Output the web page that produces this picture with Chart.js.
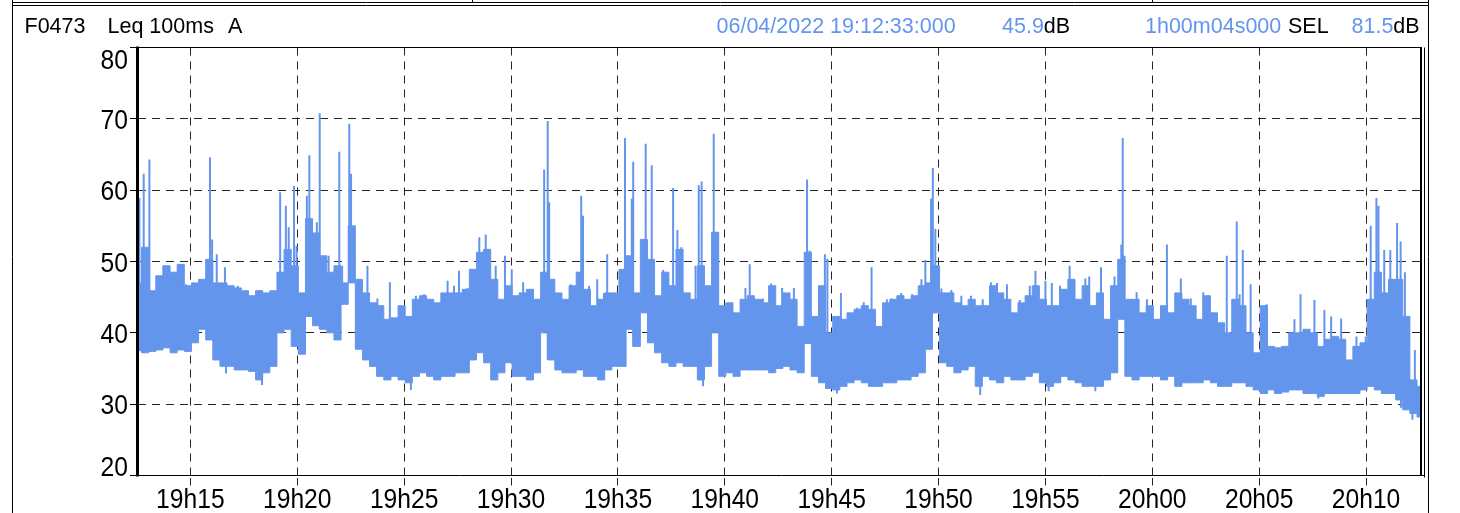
<!DOCTYPE html>
<html>
<head>
<meta charset="utf-8">
<script src="https://cdn.jsdelivr.net/npm/chart.js@4.4.0/dist/chart.umd.min.js"></script>
<style>
  html, body { margin: 0; padding: 0; background: #fff; }
  #wrap { position: relative; width: 1460px; height: 513px; overflow: hidden;
          font-family: "Liberation Sans", Arial, sans-serif; }
  #c { position: absolute; left: 0; top: 0; }
  .hd { position: absolute; top: 13.5px; font-size: 21.5px; line-height: 24px;
        white-space: nowrap; color: #000; }
  .b { color: #6495ed; }
</style>
</head>
<body>
<div id="wrap">
  <canvas id="c" width="1460" height="513"></canvas>
  <div class="hd" style="left:24.5px">F0473</div>
  <div class="hd" style="left:107.5px">Leq 100ms</div>
  <div class="hd" style="left:228px">A</div>
  <div class="hd b" style="left:716.5px">06/04/2022 19:12:33:000</div>
  <div class="hd" style="left:1002px"><span class="b">45.9</span>dB</div>
  <div class="hd b" style="left:1145px">1h00m04s000</div>
  <div class="hd" style="left:1288px">SEL</div>
  <div class="hd" style="left:1351.5px"><span class="b">81.5</span>dB</div>
</div>
<script>
// seconds since 19:12:33, one band sample every 20 s, last one at the end (3604 s)
const totalSeconds = 3604;
const sampleStep = 20;

// upper edge of the dense band (dB)
const levelHigh = [
  47, 52, 45.9, 48, 49.4, 48.5, 49.6, 46.6, 47, 47.5,
  50.3, 47, 47, 46.6, 46.3, 45.9, 45.2, 45.9, 45.6, 45.9,
  48.5, 51.7, 49.4, 45.6, 56, 54, 50.8, 48.5, 49.4, 47,
  55, 47.5, 45.6, 44.2, 43.8, 41.9, 42.1, 43.8, 42.3, 44.7,
  45.2, 44.7, 44.2, 45.6, 45.6, 45.6, 46.1, 48.9, 51.3, 51.7,
  47.5, 44.7, 46.6, 45.2, 45.6, 46.1, 44.7, 48.5, 47.5, 45.6,
  44.7, 46.6, 48.5, 46.1, 43.8, 44.7, 45.6, 45.6, 48.9, 50.8,
  45.6, 53.1, 50.3, 45.2, 48.5, 46.6, 51.7, 45.6, 44.7, 49.4,
  46.6, 54.1, 43.8, 44.2, 42.8, 44.7, 45.2, 44.7, 44.2, 46.6,
  43.8, 45.6, 44.7, 40.9, 51.3, 42.3, 46.6, 40, 42.3, 41.9,
  42.8, 43.3, 43.8, 43.3, 40.9, 44.2, 44.7, 45.2, 44.7, 45.2,
  46.6, 47, 49.4, 45.6, 45.6, 44.2, 43.8, 44.7, 43.8, 43.8,
  46.6, 45.6, 44.7, 42.8, 44.2, 45.2, 46.6, 44.7, 43.8, 43.8,
  46.1, 47.5, 44.7, 46.6, 43.8, 45.6, 41.9, 46.6, 50.3, 44.7,
  44.7, 42.8, 43.8, 41.9, 43.8, 42.8, 45.6, 44.7, 43.8, 41.9,
  45.2, 42.8, 41.4, 40, 44.7, 43.8, 40, 37.2, 43.8, 38.1,
  37.9, 38.1, 40, 40, 40.5, 40, 38.1, 39.1, 39.5, 39.1,
  36.2, 38.1, 38.6, 44.7, 48.5, 45.6, 47.5, 47.5, 42.3, 33.4,
  32.5, 32
];

// lower edge of the dense band (dB)
const levelLow = [
  37.5, 37.2, 37.4, 37.6, 37.9, 37.2, 37.6, 37.4, 38.6, 40.5,
  39, 36.2, 35.3, 35.3, 34.8, 34.8, 34.6, 33.4, 34.4, 35.3,
  40, 40.5, 38.1, 37, 42.3, 41, 40.5, 40, 39, 44,
  47, 37.7, 36.2, 35.3, 33.9, 33.4, 33.9, 33.4, 33, 33.9,
  34.4, 33.9, 33.4, 33.9, 33.9, 34.4, 34.4, 36.2, 37.2, 35.8,
  33.4, 34.4, 35.8, 33.9, 33.9, 33.4, 34.4, 40, 36.2, 34.8,
  34.4, 34.4, 34.8, 33.9, 33.9, 33.4, 34.8, 35.3, 35.3, 40.5,
  38.1, 42.8, 38.6, 37.2, 35.8, 35.3, 35.8, 35.3, 35.3, 33.4,
  35.3, 40, 33.9, 34.4, 33.9, 34.8, 34.8, 34.8, 34.8, 34.4,
  35, 35.3, 34.8, 34.4, 38.5, 33.9, 33, 32.2, 32, 32.5,
  33, 33.4, 33, 32.5, 32.5, 33, 33, 33.4, 33.4, 33.9,
  34.4, 37.7, 42.8, 35.8, 35.3, 34.4, 34.8, 35.3, 32.5, 33.9,
  33.4, 33, 33.9, 33.4, 33.4, 33.9, 34.4, 33, 32.5, 33,
  33.9, 33.4, 33, 32.5, 32.5, 32.5, 33.4, 34.4, 41.9, 33.9,
  33.4, 33.9, 33.9, 33.9, 33.4, 33.9, 32.5, 33, 33, 33,
  33.4, 33, 32.5, 32.5, 33, 33, 32.5, 32, 31.5, 32,
  31.5, 31.7, 32, 32, 31.5, 31.5, 31.1, 31.5, 31.5, 31.5,
  31.5, 31.5, 32, 32.5, 32, 31.5, 31.5, 30.6, 29.2, 28.7,
  28.2, 28
];

// isolated short peaks above the band
const peakTimes = [
  4, 16, 32, 72, 84, 102, 124, 135, 202, 208,
  221, 244, 280, 317, 343, 399, 415, 423, 438, 445,
  474, 481, 502, 510, 518, 535, 565, 573, 593, 598,
  644, 672, 707, 780, 803, 869, 887, 901, 925, 958,
  976, 1004, 1030, 1049, 1081, 1140, 1150, 1154, 1182, 1215,
  1244, 1249, 1266, 1289, 1308, 1317, 1367, 1386, 1390, 1425,
  1442, 1474, 1488, 1502, 1514, 1525, 1565, 1574, 1582, 1616,
  1622, 1661, 1705, 1717, 1754, 1777, 1808, 1841, 1878, 1885,
  1928, 1935, 1956, 1973, 2019, 2037, 2059, 2102, 2115, 2142,
  2173, 2199, 2210, 2226, 2231, 2238, 2255, 2283, 2311, 2338,
  2371, 2394, 2411, 2439, 2475, 2503, 2519, 2547, 2565, 2588,
  2615, 2626, 2659, 2670, 2703, 2741, 2760, 2764, 2769, 2803,
  2832, 2888, 2927, 2955, 2990, 3016, 3056, 3075, 3084, 3092,
  3101, 3123, 3154, 3168, 3246, 3263, 3285, 3302, 3330, 3349,
  3377, 3420, 3446, 3460, 3476, 3482, 3498, 3515, 3534, 3544,
  3556, 3584
];
const peakLevels = [
  58.9, 62.3, 64.3, 49.4, 48.5, 48.5, 49.6, 46.8, 64.6, 53.1,
  51, 49.2, 46.6, 44.8, 46, 59.7, 57.8, 54.8, 60.6, 52.2,
  59.2, 64.9, 55.5, 70.8, 50.8, 50.8, 65.4, 49.4, 69.3, 62.3,
  49.4, 44.8, 47.1, 45.2, 45.4, 47.3, 46.6, 48.7, 46.3, 53.4,
  53.8, 49.4, 50.8, 48.9, 47.1, 62.9, 69.7, 58.3, 45.6, 46.8,
  59.2, 56.4, 46.6, 47.5, 45.6, 51, 67.3, 58.8, 64, 66.5,
  63.5, 48.8, 47.7, 60.3, 54.4, 52, 49.4, 60.7, 61.2, 67.9,
  54.1, 44.2, 46.3, 49.6, 44.8, 46.9, 46.3, 46.3, 61.5, 51.5,
  51, 50.4, 42.3, 45.6, 43.5, 44.3, 49.2, 44.7, 44.8, 45.6,
  45.4, 47.5, 50.2, 58.8, 63.1, 54.6, 46.2, 46, 45.2, 45.2,
  44.7, 47.1, 47, 46.8, 44.6, 46.6, 48.7, 47.3, 47, 46.6,
  49.4, 47.5, 47.6, 47.9, 49.2, 47.9, 52.4, 67.3, 50.8, 45.7,
  44.7, 52.4, 47.6, 44.8, 45.7, 42.8, 50.8, 41.2, 55.6, 45.4,
  51.6, 46.8, 40.5, 44, 41.9, 45.4, 40.5, 44.6, 43.2, 42.3,
  42, 39.5, 39.5, 55, 58.9, 57.8, 51.6, 51.6, 55.4, 52.8,
  48.5, 37.6
];

// short dips below the band
const dipTimes = [247, 348, 766, 1586, 1962, 2364, 2556, 2687, 3313, 3545, 3577];
const dipLevels = [34.3, 32.7, 32, 32.5, 31.5, 31.3, 31.8, 31.8, 30.8, 29.5, 27.8];

// time axis ticks (seconds since 19:12:33) and their labels
const tickSeconds = [147, 447, 747, 1047, 1347, 1647, 1947, 2247, 2547, 2847, 3147, 3447];
const tickLabels = ['19h15', '19h20', '19h25', '19h30', '19h35', '19h40',
                    '19h45', '19h50', '19h55', '20h00', '20h05', '20h10'];
const yTicks = [20, 30, 40, 50, 60, 70, 80];

const blue = '#6495ed';
const gridColor = 'rgba(0,0,0,0.85)';
const labelFont = '28px "Liberation Sans", Arial, sans-serif';

const sampleTime = i => Math.min(i * sampleStep, totalSeconds);
const highPts = levelHigh.map((v, i) => ({ x: sampleTime(i), y: v }));
const lowPts = levelLow.map((v, i) => ({ x: sampleTime(i), y: v }));
const spikePts = [];
peakTimes.forEach((t, i) => {
  const k = Math.round(t / sampleStep);
  spikePts.push({ x: t, y: levelLow[k] }, { x: t, y: peakLevels[i] }, { x: t, y: null });
});
dipTimes.forEach((t, i) => {
  const k = Math.round(t / sampleStep);
  spikePts.push({ x: t, y: levelHigh[k] }, { x: t, y: dipLevels[i] }, { x: t, y: null });
});

const framePlugin = {
  id: 'frame',
  beforeDraw(chart) {
    const ctx = chart.ctx;
    ctx.save();
    ctx.strokeStyle = '#000';
    ctx.lineWidth = 1;
    ctx.beginPath();
    ctx.moveTo(12, 2.5); ctx.lineTo(1429, 2.5);
    ctx.moveTo(472.5, 0); ctx.lineTo(472.5, 2.5);
    ctx.moveTo(1152.5, 0); ctx.lineTo(1152.5, 2.5);
    ctx.moveTo(12, 5.5); ctx.lineTo(1429, 5.5);
    ctx.moveTo(12.5, 0); ctx.lineTo(12.5, 513);
    ctx.moveTo(1428.5, 0); ctx.lineTo(1428.5, 513);
    ctx.stroke();
    ctx.restore();
  },
  afterDraw(chart) {
    const { ctx, chartArea: a, scales } = chart;
    ctx.save();
    ctx.strokeStyle = '#000';
    ctx.lineWidth = 1;
    ctx.beginPath();
    ctx.moveTo(a.left, a.top); ctx.lineTo(a.right, a.top);
    ctx.moveTo(a.left, a.bottom); ctx.lineTo(a.right + 3, a.bottom);
    ctx.moveTo(a.right + 2.5, a.top); ctx.lineTo(a.right + 2.5, a.bottom + 2);
    ctx.stroke();
    ctx.lineWidth = 2;
    ctx.beginPath();
    ctx.moveTo(a.right - 1, a.top); ctx.lineTo(a.right - 1, a.bottom);
    ctx.stroke();
    ctx.lineWidth = 3;
    ctx.beginPath();
    ctx.moveTo(a.left - 0.5, a.top - 1); ctx.lineTo(a.left - 0.5, a.bottom + 1);
    ctx.stroke();

    // tick labels, slightly condensed like the original
    ctx.fillStyle = '#000';
    ctx.font = labelFont;
    ctx.textBaseline = 'alphabetic';
    ctx.textAlign = 'right';
    yTicks.forEach(v => {
      const y = scales.y.getPixelForValue(v);
      const base = Math.min(Math.max(y + 10, a.top + 21), a.bottom);
      ctx.save();
      ctx.translate(128, base);
      ctx.scale(0.88, 1);
      ctx.fillText(String(v), 0, 0);
      ctx.restore();
    });
    ctx.textAlign = 'center';
    tickSeconds.forEach((t, i) => {
      const x = scales.x.getPixelForValue(t);
      ctx.save();
      ctx.translate(x, 508);
      ctx.scale(0.88, 1);
      ctx.fillText(tickLabels[i], 0, 0);
      ctx.restore();
    });
    ctx.restore();
  }
};

new Chart(document.getElementById('c'), {
  type: 'line',
  data: {
    datasets: [
      {
        label: 'max',
        data: highPts,
        borderColor: blue,
        backgroundColor: blue,
        borderWidth: 1,
        pointRadius: 0,
        stepped: 'middle',
        fill: '+1'
      },
      {
        label: 'min',
        data: lowPts,
        borderColor: blue,
        borderWidth: 1,
        pointRadius: 0,
        stepped: 'middle',
        fill: false
      },
      {
        label: 'peaks',
        data: spikePts,
        borderColor: blue,
        borderWidth: 2,
        pointRadius: 0,
        spanGaps: false,
        fill: false
      }
    ]
  },
  options: {
    responsive: false,
    animation: false,
    layout: { padding: { top: 47.5, right: 38, left: 0, bottom: 0 } },
    plugins: { legend: { display: false }, tooltip: { enabled: false } },
    scales: {
      x: {
        type: 'linear',
        min: 0,
        max: totalSeconds,
        offset: false,
        afterBuildTicks: s => { s.ticks = tickSeconds.map(v => ({ value: v })); },
        afterFit: s => { s.height = 37.5; },
        ticks: { display: false },
        border: { display: false, dash: [8, 6] },
        grid: {
          offset: false,
          color: gridColor,
          lineWidth: 1,
          tickLength: 10,
          tickColor: gridColor,
          tickBorderDash: [0, 2, 8, 10]
        }
      },
      y: {
        min: 20,
        max: 80,
        beginAtZero: false,
        afterBuildTicks: s => { s.ticks = yTicks.map(v => ({ value: v })); },
        afterFit: s => { s.width = 138; },
        ticks: { display: false },
        border: { display: false, dash: [8, 6] },
        grid: {
          color: gridColor,
          lineWidth: 1,
          tickLength: 8,
          tickColor: '#000',
          tickBorderDash: []
        }
      }
    }
  },
  plugins: [framePlugin]
});
</script>
</body>
</html>
